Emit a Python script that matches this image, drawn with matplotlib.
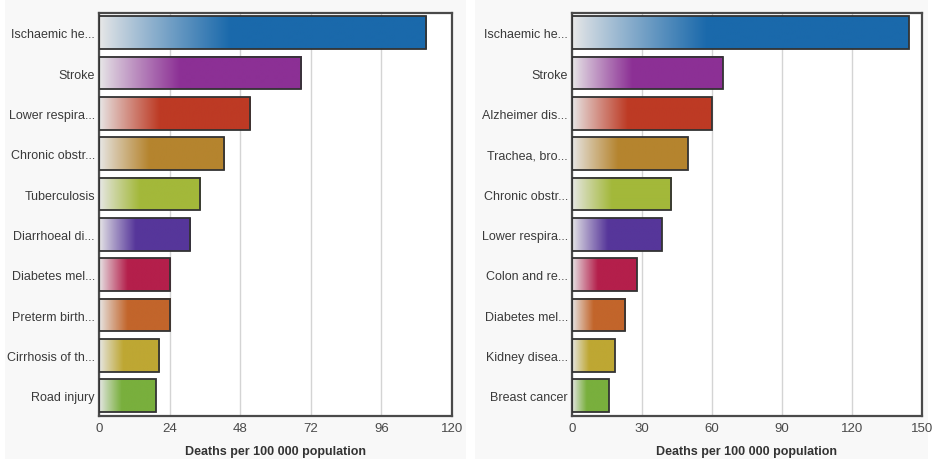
import numpy as np
import matplotlib
matplotlib.use("Agg")
import matplotlib.pyplot as plt
from matplotlib.colors import to_rgb
from matplotlib.patches import Rectangle

plt.rcParams['font.family'] = ['Liberation Sans', 'DejaVu Sans']

# left chart
left_causes = ["Ischaemic he...", "Stroke", "Lower respira...", "Chronic obstr...",
               "Tuberculosis", "Diarrhoeal di...", "Diabetes mel...", "Preterm birth...",
               "Cirrhosis of th...", "Road injury"]
left_values = [111.2, 68.7, 51.4, 42.6, 34.5, 31.0, 24.3, 24.3, 20.4, 19.3]
left_ticks = [0, 24, 48, 72, 96, 120]

# right chart
right_causes = ["Ischaemic he...", "Stroke", "Alzheimer dis...", "Trachea, bro...",
                "Chronic obstr...", "Lower respira...", "Colon and re...", "Diabetes mel...",
                "Kidney disea...", "Breast cancer"]
right_values = [144.3, 64.7, 59.9, 49.6, 42.6, 38.4, 27.7, 22.8, 18.4, 15.7]
right_ticks = [0, 30, 60, 90, 120, 150]

bar_colors = ["#1a69ab", "#8c3095", "#bd3a24", "#b5842e", "#a3b83a",
              "#56369a", "#b41f4b", "#c2652b", "#bea733", "#79af3d"]

xlabel = "Deaths per 100 000 population"


def gradient_bar(ax, y, value, color, h=0.81):
    c = np.array(to_rgb(color))
    light = np.array([0.91, 0.91, 0.91])
    t = np.linspace(0, 1, 200)
    frac = np.clip(t / 0.40, 0, 1) ** 0.9
    rgb = light[None, :] * (1 - frac[:, None]) + c[None, :] * frac[:, None]
    ax.imshow(rgb[None, :, :], extent=[0, value, y - h / 2, y + h / 2], aspect="auto",
              interpolation="bilinear", zorder=2)
    ax.add_patch(Rectangle((0, y - h / 2), value, h, fill=False,
                           edgecolor="#333333", lw=1.3, zorder=3))


def draw_panel(ax, causes, values, ticks):
    for i, (v, col) in enumerate(zip(values, bar_colors)):
        gradient_bar(ax, i, v, col)
    ax.set_ylim(len(causes) - 0.5, -0.5)
    ax.set_xlim(ticks[0], ticks[-1])
    ax.set_yticks(range(len(causes)))
    ax.set_yticklabels(causes, fontsize=9, color="#3a3a3a")
    ax.set_xticks(ticks)
    ax.set_xticklabels([str(t) for t in ticks], fontsize=9.5, color="#4a4a4a")
    ax.tick_params(axis="y", length=0, pad=3)
    ax.tick_params(axis="x", length=0, pad=4)
    ax.xaxis.grid(True, color="#d4d4d4", lw=1)
    ax.set_axisbelow(True)
    for s in ax.spines.values():
        s.set_color("#4a4a4a")
        s.set_linewidth(1.6)
    ax.set_xlabel(xlabel, fontsize=9, fontweight="bold", color="#333333", labelpad=8.5)
    ax.set_facecolor("white")


fig = plt.figure(figsize=(9.33, 4.6), dpi=100, facecolor="white")
fig.patches.append(Rectangle((5 / 933, 0), 461 / 933, 1, transform=fig.transFigure,
                             facecolor="#f8f8f8", edgecolor="none", zorder=-10))
fig.patches.append(Rectangle((475 / 933, 0), 453 / 933, 1, transform=fig.transFigure,
                             facecolor="#f8f8f8", edgecolor="none", zorder=-10))

ax1 = fig.add_axes([99 / 933, 43 / 460, 353 / 933, 403.5 / 460])
ax2 = fig.add_axes([572 / 933, 43 / 460, 350 / 933, 403.5 / 460])

draw_panel(ax1, left_causes, left_values, left_ticks)
draw_panel(ax2, right_causes, right_values, right_ticks)

fig.savefig("out.png", dpi=100, facecolor=fig.get_facecolor())
